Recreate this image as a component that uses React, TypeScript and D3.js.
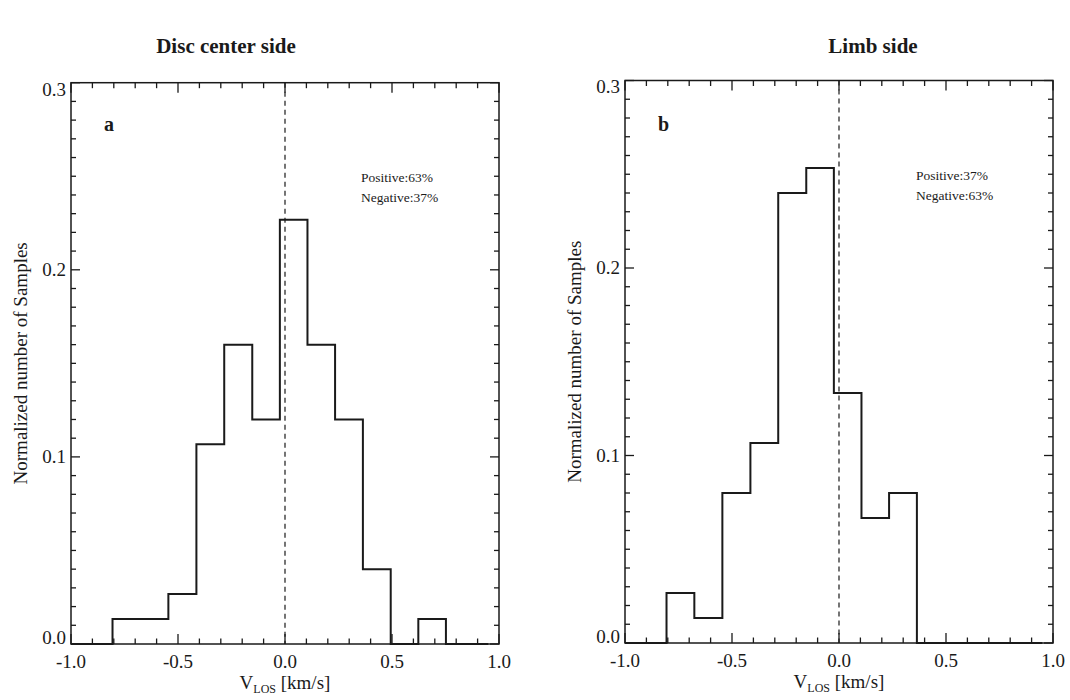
import React, { useEffect, useRef } from "react";
import * as d3 from "d3";

// histogram bin edges [km/s] (same bins in both panels)
const binEdges = [-0.806, -0.676, -0.545, -0.414, -0.284, -0.153, -0.024, 0.105, 0.234, 0.364, 0.494, 0.623, 0.752];
// normalized counts per bin
const discCenter = [0.0133, 0.0133, 0.0267, 0.1067, 0.16, 0.12, 0.2267, 0.16, 0.12, 0.04, 0, 0.0133];
const limb = [0.0267, 0.0133, 0.08, 0.1067, 0.24, 0.2533, 0.1333, 0.0667, 0.08, 0, 0, 0];
const histRange = [-1.0, 0.95];

const panelTitles = ["Disc center side", "Limb side"];
const panelLetters = ["a", "b"];
const positiveLabels = ["Positive:63%", "Positive:37%"];
const negativeLabels = ["Negative:37%", "Negative:63%"];

const FONT = "'Liberation Serif', 'Times New Roman', serif";
const INK = "#1a1a1a";

export default function App() {
  const ref = useRef<SVGSVGElement>(null);

  useEffect(() => {
    const svg = d3.select(ref.current);
    svg.selectAll("*").remove();

    const panels = [
      { values: discCenter, left: 71, right: 499, top: 82.7, bottom: 644, titleX: 226 },
      { values: limb, left: 625, right: 1053, top: 80.5, bottom: 643, titleX: 873 },
    ];

    panels.forEach((p, i) => {
      const x = d3.scaleLinear().domain([-1, 1]).range([p.left, p.right]);
      const y = d3.scaleLinear().domain([0, 0.3]).range([p.bottom, p.top]);
      const g = svg.append("g");

      // title
      g.append("text")
        .attr("x", p.titleX)
        .attr("y", 53)
        .attr("text-anchor", "middle")
        .attr("font-family", FONT)
        .attr("font-weight", "bold")
        .attr("font-size", 21)
        .attr("fill", INK)
        .text(panelTitles[i]);

      // frame
      g.append("rect")
        .attr("x", p.left)
        .attr("y", p.top)
        .attr("width", p.right - p.left)
        .attr("height", p.bottom - p.top)
        .attr("fill", "none")
        .attr("stroke", INK)
        .attr("stroke-width", 1.5);

      // ticks on all four sides, inward
      const xMajor = x.ticks(4);
      const yMajor = y.ticks(3);
      const isMajor = (v: number, arr: number[]) => arr.some((m) => Math.abs(m - v) < 1e-6);

      x.ticks(20).forEach((t) => {
        const len = isMajor(t, xMajor) ? 10 : 5.5;
        g.append("line").attr("x1", x(t)).attr("x2", x(t)).attr("y1", p.bottom).attr("y2", p.bottom - len)
          .attr("stroke", INK).attr("stroke-width", 1.3);
        g.append("line").attr("x1", x(t)).attr("x2", x(t)).attr("y1", p.top).attr("y2", p.top + len)
          .attr("stroke", INK).attr("stroke-width", 1.3);
      });
      y.ticks(30).forEach((t) => {
        const len = isMajor(t, yMajor) ? 9 : 5;
        g.append("line").attr("x1", p.left).attr("x2", p.left + len).attr("y1", y(t)).attr("y2", y(t))
          .attr("stroke", INK).attr("stroke-width", 1.3);
        g.append("line").attr("x1", p.right).attr("x2", p.right - len).attr("y1", y(t)).attr("y2", y(t))
          .attr("stroke", INK).attr("stroke-width", 1.3);
      });

      // tick labels
      xMajor.forEach((t) => {
        g.append("text")
          .attr("x", x(t))
          .attr("y", p.bottom + 24)
          .attr("text-anchor", "middle")
          .attr("font-family", FONT)
          .attr("font-size", 19)
          .attr("fill", INK)
          .text(t.toFixed(1));
      });
      yMajor.forEach((t, k) => {
        // IDL nudges the end labels inside the axis range
        const dy = k === 0 ? "0em" : k === yMajor.length - 1 ? "0.68em" : "0.34em";
        g.append("text")
          .attr("x", p.left - 5)
          .attr("y", y(t))
          .attr("dy", dy)
          .attr("text-anchor", "end")
          .attr("font-family", FONT)
          .attr("font-size", 19)
          .attr("fill", INK)
          .text(t.toFixed(1));
      });

      // axis titles
      const xt = g.append("text")
        .attr("x", (p.left + p.right) / 2)
        .attr("y", p.bottom + 45)
        .attr("text-anchor", "middle")
        .attr("font-family", FONT)
        .attr("font-size", 19)
        .attr("fill", INK);
      xt.append("tspan").text("V");
      xt.append("tspan").attr("font-size", 12).attr("dy", 4).text("LOS");
      xt.append("tspan").attr("dy", -4).text(" [km/s]");

      g.append("text")
        .attr("transform", `translate(${p.left - 44},${(p.top + p.bottom) / 2}) rotate(-90)`)
        .attr("text-anchor", "middle")
        .attr("font-family", FONT)
        .attr("font-size", 19)
        .attr("fill", INK)
        .text("Normalized number of Samples");

      // zero line
      g.append("line")
        .attr("x1", x(0)).attr("x2", x(0))
        .attr("y1", p.top).attr("y2", p.bottom)
        .attr("stroke", INK)
        .attr("stroke-width", 1.2)
        .attr("stroke-dasharray", "5,4");

      // histogram
      const pts: [number, number][] = [[histRange[0], 0]];
      p.values.forEach((v, k) => pts.push([binEdges[k], v]));
      pts.push([binEdges[binEdges.length - 1], 0]);
      pts.push([histRange[1], 0]);
      const line = d3.line<[number, number]>()
        .x((d) => x(d[0]))
        .y((d) => y(d[1]))
        .curve(d3.curveStepAfter);
      g.append("path")
        .attr("d", line(pts))
        .attr("fill", "none")
        .attr("stroke", INK)
        .attr("stroke-width", 2);

      // panel letter and percentages
      g.append("text")
        .attr("x", p.left + 33)
        .attr("y", 131)
        .attr("font-family", FONT)
        .attr("font-weight", "bold")
        .attr("font-size", 20)
        .attr("fill", INK)
        .text(panelLetters[i]);

      const px = i === 0 ? 361 : 916;
      g.append("text")
        .attr("x", px)
        .attr("y", i === 0 ? 182 : 180)
        .attr("font-family", FONT)
        .attr("font-size", 13.5)
        .attr("fill", INK)
        .text(positiveLabels[i]);
      g.append("text")
        .attr("x", px)
        .attr("y", i === 0 ? 202 : 199.5)
        .attr("font-family", FONT)
        .attr("font-size", 13.5)
        .attr("fill", INK)
        .text(negativeLabels[i]);
    });
  }, []);

  return (
    <svg
      ref={ref}
      width={1070}
      height={700}
      style={{ position: "absolute", left: 0, top: 0, background: "#fff" }}
    />
  );
}
